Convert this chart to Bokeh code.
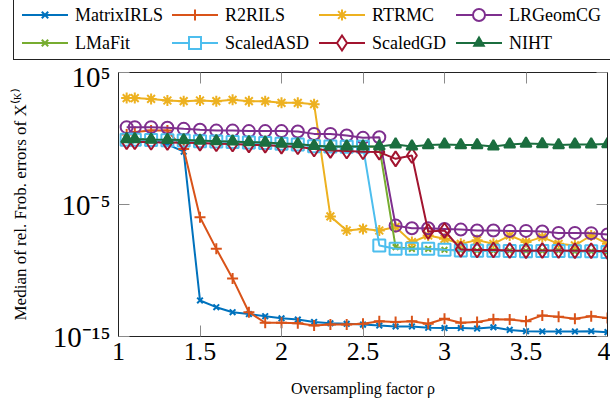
import numpy as np
from bokeh.plotting import figure
from bokeh.layouts import column
from bokeh.models import (FixedTicker, CustomJSTickFormatter, LinearAxis, LogAxis, Range1d, Div)
from bokeh.embed import file_html
from bokeh.resources import INLINE

# ---------------- data (log10 of median relative Frobenius error) ----------------
rho = [1.05, 1.1, 1.2, 1.3, 1.4, 1.5, 1.6, 1.7, 1.8, 1.9, 2.0, 2.1, 2.2, 2.3, 2.4, 2.5,
       2.6, 2.7, 2.8, 2.9, 3.0, 3.1, 3.2, 3.3, 3.4, 3.5, 3.6, 3.7, 3.8, 3.9, 4.0]

matrixirls_log10 = [-0.05, -0.06, -0.1, -0.45, -1.0, -12.27, -12.78, -13.16, -13.3, -13.46,
                    -13.62, -13.72, -13.9, -14.0, -14.04, -14.1, -14.17, -14.24, -14.24, -14.34,
                    -14.36, -14.36, -14.4, -14.3, -14.5, -14.6, -14.62, -14.62, -14.62, -14.6, -14.67]
r2rils_log10 = [0.3, 0.5, 0.6, 0.6, -0.8, -5.96, -8.36, -10.6, -13.16, -13.96,
                -13.96, -14.0, -14.17, -14.1, -14.1, -14.04, -13.84, -13.9, -13.84, -14.04,
                -13.66, -13.96, -13.9, -13.7, -13.72, -13.84, -13.4, -13.5, -13.66, -13.47, -13.6]
rtrmc_log10 = [3.06, 3.06, 3.0, 2.88, 2.83, 2.88, 2.83, 2.93, 2.83, 2.83, 2.7, 2.7, 2.6,
               -5.9, -6.97, -6.85, -6.97, -6.7, -7.85, -7.35, -7.6, -7.98, -7.7, -7.98,
               -7.35, -7.85, -7.47, -7.98, -8.1, -7.35, -7.98]
lrgeomcg_log10 = [0.86, 0.86, 0.86, 0.81, 0.73, 0.66, 0.6, 0.6, 0.56, 0.56, 0.56, 0.53, 0.35,
                  0.35, 0.23, 0.05, 0.1, -6.6, -6.8, -6.8, -6.85, -6.9, -6.97, -6.97, -7.0,
                  -7.0, -7.05, -7.15, -7.15, -7.17, -7.27]
lmafit_log10 = [-0.08, -0.06, -0.1, -0.12, -0.15, -0.18, -0.2, -0.25, -0.3, -0.32, -0.4, -0.45,
                -0.55, -0.62, -0.62, -0.6, -0.62, -8.23, -8.36, -8.36, -8.43, -8.48, -8.5,
                -8.5, -8.5, -8.52, -8.52, -8.5, -8.55, -8.55, -8.6]
scaledasd_log10 = [-0.1, -0.1, -0.12, -0.14, -0.16, -0.2, -0.22, -0.26, -0.3, -0.34, -0.4, -0.45,
                   -0.58, -0.6, -0.62, -0.62, -8.1, -8.36, -8.36, -8.36, -8.43, -8.48, -8.5,
                   -8.5, -8.52, -8.55, -8.52, -8.52, -8.55, -8.55, -8.6]
scaledgd_log10 = [-0.25, -0.25, -0.28, -0.3, -0.32, -0.35, -0.4, -0.42, -0.48, -0.5, -0.58, -0.62,
                  -0.8, -0.9, -0.95, -1.0, -1.03, -1.54, -1.29, -7.05, -6.97, -8.4, -8.45,
                  -8.45, -8.48, -8.5, -8.48, -8.48, -8.5, -8.5, -8.55]
niht_log10 = [-0.05, -0.05, -0.08, -0.1, -0.12, -0.15, -0.2, -0.22, -0.28, -0.3, -0.38, -0.42,
              -0.55, -0.6, -0.6, -0.6, -0.6, -0.45, -0.6, -0.5, -0.45, -0.5, -0.5, -0.6,
              -0.45, -0.38, -0.42, -0.5, -0.45, -0.45, -0.42]

names = ["MatrixIRLS", "R2RILS", "RTRMC", "LRGeomCG", "LMaFit", "ScaledASD", "ScaledGD", "NIHT"]
series = [matrixirls_log10, r2rils_log10, rtrmc_log10, lrgeomcg_log10,
          lmafit_log10, scaledasd_log10, scaledgd_log10, niht_log10]

x_ticks = [1, 1.5, 2, 2.5, 3, 3.5, 4]
y_ticks = [1e-15, 1e-5, 1e5]

# ---------------- styles ----------------
styles = [
    dict(color="#0072BD", marker="x", size=8, fill=False),
    dict(color="#D95319", marker="cross", size=11, fill=False),
    dict(color="#EDB120", marker="asterisk", size=11, fill=False),
    dict(color="#7E2F8E", marker="circle", size=12, fill=False),
    dict(color="#77AC30", marker="x", size=8, fill=False),
    dict(color="#4DBEEE", marker="square", size=12, fill=False),
    dict(color="#A2142F", marker="diamond", size=15, fill=False),
    dict(color="#1B6E3F", marker="triangle", size=11, fill=True),
]

SERIF = "Liberation Serif"

# ---------------- main plot ----------------
p = figure(width=610, height=342, output_backend="svg", toolbar_location=None,
           y_axis_type="log", x_range=Range1d(1, 4), y_range=Range1d(1e-15, 1e5),
           min_border_left=118, min_border_right=3, min_border_top=12, min_border_bottom=66)
p.grid.visible = False
p.outline_line_color = "#222222"
p.outline_line_width = 1

for name, vals, st in zip(names, series, styles):
    y = 10.0 ** np.array(vals)
    fill = st["color"] if st["fill"] else None
    p.line(rho, y, line_color=st["color"], line_width=2)
    p.scatter(rho, y, marker=st["marker"], size=st["size"], line_color=st["color"],
              line_width=2, fill_color=fill)

# axes
xfmt = CustomJSTickFormatter(code="return Number.isInteger(tick) ? tick.toFixed(0) : tick.toFixed(1);")
yfmt = CustomJSTickFormatter(code="""
const e = Math.round(Math.log10(tick));
const sup = {'-':'\u207b','0':'\u2070','1':'\u00b9','2':'\u00b2','3':'\u00b3','4':'\u2074',
             '5':'\u2075','6':'\u2076','7':'\u2077','8':'\u2078','9':'\u2079'};
return '10' + String(e).split('').map(c => sup[c]).join('');
""")

for ax in p.xaxis:
    ax.ticker = FixedTicker(ticks=x_ticks)
    ax.formatter = xfmt
    ax.major_label_text_font_size = "26px"
    ax.axis_label_text_font_size = "16px"
for ax in p.yaxis:
    ax.ticker = FixedTicker(ticks=y_ticks)
    ax.formatter = yfmt
    ax.major_label_text_font_size = "29px"
    ax.axis_label_text_font_size = "17px"

for ax in list(p.xaxis) + list(p.yaxis):
    ax.major_tick_in = 11
    ax.major_tick_out = 0
    ax.minor_tick_in = 0
    ax.minor_tick_out = 0
    ax.major_tick_line_color = "#8a8a8a"
    ax.axis_line_color = "#222222"
    ax.major_label_text_font = SERIF
    ax.major_label_text_color = "black"
    ax.axis_label_text_font = SERIF
    ax.axis_label_text_font_style = "normal"
    ax.axis_label_text_color = "black"

p.xaxis.axis_label = "Oversampling factor \u03c1"
p.yaxis.axis_label = "Median of rel. Frob. errors of X\u207d\u1d37\u207e"
p.xaxis.major_label_standoff = 6
p.yaxis.major_label_standoff = 8
p.xaxis.axis_label_standoff = 17
p.yaxis.axis_label_standoff = 20

# mirrored ticks on top and right (labels invisible)
blank = CustomJSTickFormatter(code="return '.';")
top = LinearAxis(ticker=FixedTicker(ticks=x_ticks), formatter=blank,
                 major_label_text_font_size="1px", major_label_text_alpha=0,
                 major_tick_in=11, major_tick_out=0, minor_tick_in=0, minor_tick_out=0,
                 major_tick_line_color="#8a8a8a", axis_line_color="#222222",
                 major_label_standoff=0)
right = LogAxis(ticker=FixedTicker(ticks=y_ticks), formatter=blank,
                major_label_text_font_size="1px", major_label_text_alpha=0,
                major_tick_in=11, major_tick_out=0, minor_tick_in=0, minor_tick_out=0,
                major_tick_line_color="#8a8a8a", axis_line_color="#222222",
                major_label_standoff=0)
p.add_layout(top, "above")
p.add_layout(right, "right")


# ---------------- legend strip (HTML, placed above the plot) ----------------
def swatch(st):
    c, s, m = st["color"], st["size"], st["marker"]
    r = s / 2.0
    cx, cy = 23, 10
    out = [f'<line x1="0" y1="10" x2="46" y2="10" stroke="{c}" stroke-width="2"/>']
    ln = lambda x1, y1, x2, y2: (f'<line x1="{x1:.2f}" y1="{y1:.2f}" x2="{x2:.2f}" y2="{y2:.2f}" '
                                 f'stroke="{c}" stroke-width="2"/>')
    if m == "x":
        a = r * 0.8
        out += [ln(cx - a, cy - a, cx + a, cy + a), ln(cx - a, cy + a, cx + a, cy - a)]
    elif m == "cross":
        out += [ln(cx - r, cy, cx + r, cy), ln(cx, cy - r, cx, cy + r)]
    elif m == "asterisk":
        a = r * 0.707
        out += [ln(cx - r, cy, cx + r, cy), ln(cx, cy - r, cx, cy + r),
                ln(cx - a, cy - a, cx + a, cy + a), ln(cx - a, cy + a, cx + a, cy - a)]
    elif m == "circle":
        out.append(f'<circle cx="{cx}" cy="{cy}" r="{r:.2f}" fill="white" stroke="{c}" stroke-width="2"/>')
    elif m == "square":
        out.append(f'<rect x="{cx - r:.2f}" y="{cy - r:.2f}" width="{s}" height="{s}" fill="white" '
                   f'stroke="{c}" stroke-width="2"/>')
    elif m == "diamond":
        w = r / 1.5
        out.append(f'<polygon points="{cx},{cy - r:.2f} {cx + w:.2f},{cy} {cx},{cy + r:.2f} {cx - w:.2f},{cy}" '
                   f'fill="white" stroke="{c}" stroke-width="2"/>')
    elif m == "triangle":
        out.append(f'<polygon points="{cx},{cy - r:.2f} {cx + r * 0.866:.2f},{cy + r * 0.5:.2f} '
                   f'{cx - r * 0.866:.2f},{cy + r * 0.5:.2f}" fill="{c}" stroke="{c}" stroke-width="2"/>')
    return ('<svg width="46" height="20" style="overflow:visible;display:block;flex:none">'
            + "".join(out) + '</svg>')


col_left = [22, 172, 319, 456]
row_mid = [15, 43]
parts = ['<div style="position:relative;width:610px;height:60px;overflow:hidden;background:white;'
         'font-family:\'Liberation Serif\',serif;font-size:18px;color:black;">',
         '<div style="position:absolute;left:13px;top:-4px;width:660px;height:64px;'
         'border:1px solid #222;box-sizing:border-box;"></div>']
for i, (name, st) in enumerate(zip(names, styles)):
    x0 = col_left[i % 4]
    y0 = row_mid[i // 4] - 10
    parts.append(f'<div style="position:absolute;left:{x0}px;top:{y0}px;height:20px;display:flex;'
                 f'align-items:center;white-space:nowrap;line-height:20px;">{swatch(st)}'
                 f'<span style="margin-left:7px">{name}</span></div>')
parts.append('</div>')
legend_div = Div(text="".join(parts), width=610, height=60, margin=0)

layout = column(legend_div, p, spacing=0)
open("out.html", "w").write(file_html(layout, INLINE))
